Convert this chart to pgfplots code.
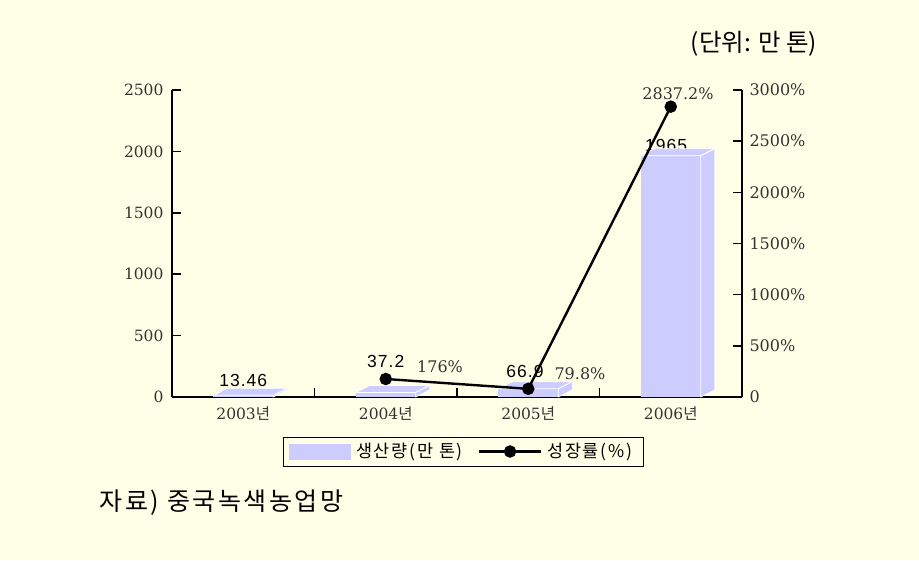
\documentclass[border=0pt]{standalone}
\usepackage{fontspec}
\usepackage{pgfplots}
\pgfplotsset{compat=1.18}
\setmainfont{DejaVu Serif}
\newfontfamily\kr{Noto Sans CJK KR}
\newfontfamily\krs[LetterSpace=10]{Noto Sans CJK KR}
\newfontfamily\gul[LetterSpace=6]{Liberation Sans}
\definecolor{bg}{RGB}{255,255,232}
\definecolor{barc}{RGB}{204,204,255}

\pgfdeclareplotmark{bar3d}{%
  \pgfmathsetmacro\bh{\myrawy/2500*307}%
  \pgfmathsetmacro\sb{7-\bh}%
  \pgfsetlinewidth{0.8pt}%
  \pgfsetfillcolor{barc}%
  \pgfsetstrokecolor{white}%
  \pgfpathrectanglecorners{\pgfpoint{-30pt}{-\bh pt}}{\pgfpoint{30pt}{0pt}}%
  \pgfusepath{fill}%
  \pgfpathmoveto{\pgfpoint{-30pt}{0pt}}%
  \pgfpathlineto{\pgfpoint{-16pt}{7pt}}%
  \pgfpathlineto{\pgfpoint{44pt}{7pt}}%
  \pgfpathlineto{\pgfpoint{30pt}{0pt}}%
  \pgfpathclose
  \pgfusepath{fill,stroke}%
  \pgfpathmoveto{\pgfpoint{30pt}{0pt}}%
  \pgfpathlineto{\pgfpoint{44pt}{7pt}}%
  \pgfpathlineto{\pgfpoint{44pt}{\sb pt}}%
  \pgfpathlineto{\pgfpoint{30pt}{-\bh pt}}%
  \pgfpathclose
  \pgfusepath{fill,stroke}%
}

\begin{document}
\begin{tikzpicture}
\fill[bg] (0,0) rectangle (919pt,560pt);
\begin{axis}[
  at={(172pt,163pt)}, anchor=south west,
  scale only axis, width=570pt, height=307pt,
  xmin=-0.5, xmax=3.5, ymin=0, ymax=2500,
  axis x line*=bottom, axis y line*=left,
  axis line style={line width=1.6pt, -, black},
  axis on top,
  tick align=inside, major tick length=9pt,
  tick style={line width=1.6pt, black},
  xtick={0.5,1.5,2.5}, xticklabels={},
  extra x ticks={0,1,2,3},
  extra x tick labels={2003{\kr 년},2004{\kr 년},2005{\kr 년},2006{\kr 년}},
  extra x tick style={major tick length=0pt},
  ytick={0,500,...,2500},
  yticklabel style={font=\fontsize{15.5}{17}\selectfont, xshift=-5pt, text=black!80},
  xticklabel style={font=\fontsize{15.5}{17}\selectfont, text=black!80, yshift=-6pt},
  /pgf/number format/assume math mode=true,
  /pgf/number format/1000 sep={},
  clip=false,
]
\addplot[only marks, mark=bar3d, visualization depends on={rawy \as \myrawy}]
  coordinates {(0,13.46) (1,37.2) (2,66.9) (3,1965)};
\node[font=\gul\fontsize{17.5}{19}\selectfont] at (axis cs:0,138) {13.46};
\node[font=\gul\fontsize{17.5}{19}\selectfont] at (axis cs:1.0,293) {37.2};
\node[font=\gul\fontsize{17.5}{19}\selectfont] at (axis cs:1.977,204) {66.9};
\node[font=\gul\fontsize{17.5}{19}\selectfont] at (axis cs:2.967,2052) {1965};
\node[font=\fontsize{16}{18}\selectfont, text=black!80] at (axis cs:1.381,244) {176\%};
\node[font=\fontsize{16}{18}\selectfont, text=black!80] at (axis cs:2.363,187) {79.8\%};
\node[font=\fontsize{16}{18}\selectfont, text=black!80] at (axis cs:3.051,2467) {2837.2\%};
\end{axis}
\begin{axis}[
  at={(172pt,163pt)}, anchor=south west,
  scale only axis, width=570pt, height=307pt,
  xmin=-0.5, xmax=3.5, ymin=0, ymax=3000,
  hide x axis, axis y line*=right,
  axis line style={line width=1.6pt, -, black},
  tick align=inside, major tick length=9pt,
  tick style={line width=1.6pt, black},
  ytick={0,500,...,3000},
  yticklabels={0,500\%,1000\%,1500\%,2000\%,2500\%,3000\%},
  yticklabel style={font=\fontsize{16}{18}\selectfont, xshift=4pt, text=black!80},
  legend columns=2,
  legend style={at={(axis description cs:0.511,-0.1775)}, anchor=center,
    draw=black, line width=0.8pt, fill=none, inner xsep=6pt, inner ysep=4.5pt,
    font=\krs\fontsize{17.5}{19}\selectfont,
    nodes={inner xsep=5pt},
    /tikz/every even column/.append style={column sep=10pt}},
  clip=false,
]
\addlegendimage{legend image code/.code={\fill[barc] (0pt,-7.5pt) rectangle (61pt,7.5pt);}}
\addlegendentry{생산량(만 톤)}
\addplot[black, line width=2.4pt, mark=*, mark size=5pt,
  legend image code/.code={\draw[black, line width=2.4pt] (0pt,0pt) -- (62pt,0pt); \fill[black] (31pt,0pt) circle (5pt);}]
  coordinates {(1,176) (2,79.8) (3,2837.2)};
\addlegendentry{성장률(\%)}
\end{axis}
\node[font=\kr\fontsize{24.5}{28}\selectfont] at (754pt,516pt) {(단위: 만 톤)};
\node[font=\krs\fontsize{25}{29}\selectfont, anchor=west] at (96pt,57pt) {자료) 중국녹색농업망};
\end{tikzpicture}
\end{document}
